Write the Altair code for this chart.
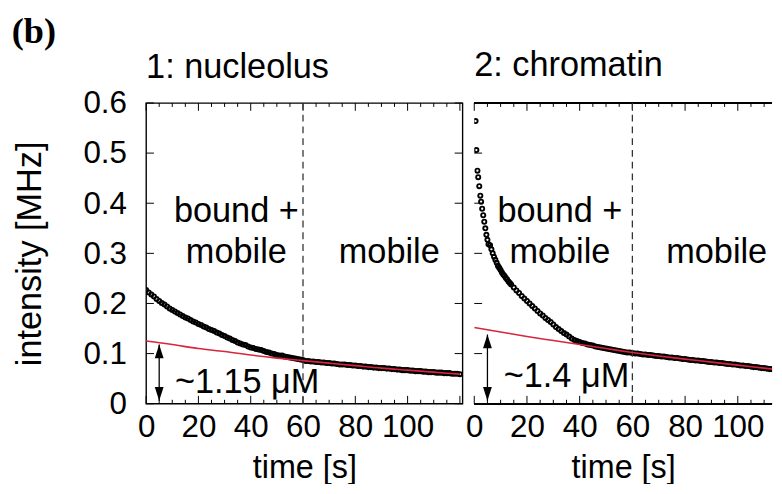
import altair as alt
import pandas as pd

FONT = "Liberation Sans"
RED = "#d7263d"

# ---------------- data ----------------
# panel 1: nucleolus, one sample per second
t1 = list(range(0, 121))
v1 = [0.227, 0.222, 0.218, 0.214, 0.209, 0.205, 0.201, 0.198, 0.194, 0.190,
      0.187, 0.184, 0.181, 0.178, 0.175, 0.172, 0.170, 0.167, 0.164, 0.162,
      0.159, 0.157, 0.154, 0.152, 0.149, 0.147, 0.145, 0.142, 0.140, 0.137,
      0.135, 0.132, 0.130, 0.127, 0.125, 0.122, 0.120, 0.118, 0.117, 0.114,
      0.112, 0.111, 0.109, 0.108, 0.107, 0.105, 0.103, 0.102, 0.100, 0.099,
      0.097, 0.096, 0.096, 0.094, 0.093, 0.092, 0.091, 0.090, 0.089, 0.088,
      0.087,
      0.085, 0.085, 0.084, 0.084, 0.083, 0.083, 0.082, 0.082, 0.081, 0.081,
      0.080, 0.080, 0.079, 0.078, 0.078, 0.078, 0.077, 0.077, 0.076, 0.076,
      0.075, 0.075, 0.074, 0.074, 0.073, 0.073, 0.072, 0.072, 0.071, 0.071,
      0.071, 0.070, 0.070, 0.069, 0.069, 0.068, 0.068, 0.067, 0.067, 0.067,
      0.066, 0.066, 0.065, 0.065, 0.065, 0.064, 0.064, 0.063, 0.063, 0.063,
      0.062, 0.062, 0.062, 0.061, 0.061, 0.061, 0.060, 0.060, 0.060, 0.059]

# panel 2: chromatin (dense at the start)
t2 = ([0.5, 0.8, 1.2, 1.5, 1.9, 2.3, 2.6, 3.0, 3.4, 3.8, 4.2, 4.6, 5.0, 5.4,
       6.0, 6.5, 7.0, 7.5, 8.0, 8.5, 9.0, 9.5, 10.0, 10.5, 11.0, 11.5, 12.0,
       12.5, 13.0, 13.5, 14.0] + list(range(15, 117)))
v2 = [0.564, 0.506, 0.465, 0.452, 0.434, 0.415, 0.403, 0.389, 0.376, 0.363,
      0.350, 0.337, 0.327, 0.318,
      0.316, 0.308, 0.300, 0.293, 0.287, 0.281, 0.275, 0.271, 0.267, 0.262,
      0.258, 0.255, 0.251, 0.248, 0.244, 0.241, 0.238,
      0.232, 0.226, 0.221, 0.215, 0.210, 0.205, 0.200, 0.195, 0.190, 0.185,
      0.180, 0.176, 0.171, 0.167, 0.163,
      0.158, 0.153, 0.149, 0.145, 0.141, 0.138, 0.134, 0.130, 0.127, 0.125,
      0.123, 0.121, 0.120, 0.118, 0.117, 0.116, 0.114, 0.113, 0.112,
      0.111, 0.110, 0.109, 0.108, 0.107, 0.106, 0.105, 0.104, 0.103, 0.102, 0.102,
      0.101,
      0.100, 0.100, 0.099, 0.098, 0.098, 0.097, 0.097, 0.096, 0.095, 0.095,
      0.094, 0.094, 0.093, 0.092, 0.092, 0.091, 0.091, 0.090, 0.089, 0.089,
      0.088, 0.087, 0.087, 0.086, 0.086, 0.085, 0.085, 0.084, 0.083, 0.083,
      0.082, 0.082, 0.081, 0.081, 0.080, 0.079, 0.079, 0.078, 0.078, 0.077,
      0.076, 0.076, 0.075, 0.075, 0.074, 0.073, 0.073, 0.072, 0.071, 0.071,
      0.070, 0.069, 0.069, 0.068, 0.067, 0.067]

# red fits (mobile fraction)
fit_t = [0, 10, 20, 30, 40, 50, 60, 70, 80, 90, 100, 110, 120]
fit1 = [0.125, 0.118, 0.110, 0.104, 0.097, 0.091, 0.086, 0.081, 0.076, 0.071, 0.067, 0.063, 0.059]
fit2 = [0.152, 0.143, 0.134, 0.126, 0.118, 0.110, 0.102, 0.095, 0.089, 0.083, 0.077, 0.071, 0.065]

x_labels = [0, 20, 40, 60, 80, 100]
x_major = [0, 20, 40, 60, 80, 100, 120]
x_minor = [5, 10, 15, 25, 30, 35, 45, 50, 55, 65, 70, 75, 85, 90, 95, 105, 110, 115]
y_major = [0.0, 0.1, 0.2, 0.3, 0.4, 0.5, 0.6]

titles = ["1: nucleolus", "2: chromatin"]
title_offsets = [-25, -8]
conc_labels = ["~1.15 \u03bcM", "~1.4 \u03bcM"]
conc_pos = [(11.0, 0.022), (11.2, 0.034)]
arrow_t = [5, 5]
arrow_lo = [0.006, 0.006]
arrow_hi = [0.118, 0.138]
bound_t = [34.5, 32.5]
mobile_t = [93, 92]
bound_v = [0.363, 0.363]
mobile_v = [0.281, 0.281]
split_t = 60

H = 307
widths = [323, 304]
xmax = [121, 113]

UP = "M0,0L0.9,2.8L-0.9,2.8Z"
DOWN = "M0,0L0.9,-2.8L-0.9,-2.8Z"


def panel(i, t, v, fit):
    W = widths[i]
    xs = alt.Scale(domain=[0, xmax[i]], nice=False, zero=False)
    ys = alt.Scale(domain=[0, 0.6], nice=False, zero=False)
    xaxis = alt.Axis(values=x_labels, ticks=False, domain=False, grid=False,
                     labelFontSize=32, labelFont=FONT, labelColor="black",
                     labelPadding=8, labelFlush=False, labelOverlap=False,
                     title="time [s]", titleFontSize=33, titleFont=FONT,
                     titleFontWeight="normal", titleColor="black", titlePadding=10)
    if i == 0:
        yaxis = alt.Axis(values=y_major, format=".1f",
                         labelExpr="datum.value == 0 ? '0' : datum.label",
                         ticks=False, domain=False, grid=False,
                         labelFontSize=32, labelFont=FONT, labelColor="black",
                         labelPadding=20, labelFlush=False, labelOverlap=False,
                         title="intensity [MHz]", titleFontSize=35, titleFont=FONT,
                         titleFontWeight="normal", titleColor="black", titlePadding=36)
    else:
        yaxis = None

    def X(f):
        return alt.X(f, scale=xs, axis=xaxis)

    def Y(f):
        return alt.Y(f, scale=ys, axis=yaxis)

    pts = alt.Chart(pd.DataFrame({"t": t, "v": v})).mark_point(
        filled=False, color="black", size=18, strokeWidth=1.9, opacity=1, clip=True
    ).encode(x=X("t:Q"), y=Y("v:Q"))

    red = alt.Chart(pd.DataFrame({"t": fit_t, "v": fit})).mark_line(
        color=RED, strokeWidth=1.6, clip=True, interpolate="monotone"
    ).encode(x=X("t:Q"), y=Y("v:Q"))

    dash = alt.Chart(pd.DataFrame({"t": [split_t]})).mark_rule(
        color="#333333", strokeWidth=1.3, strokeDash=[7, 5]
    ).encode(x=X("t:Q"))

    xmj = pd.DataFrame({"t": [x for x in x_major if x <= xmax[i]]})
    xmn = pd.DataFrame({"t": [x for x in x_minor if x <= xmax[i]]})
    ymj = pd.DataFrame({"v": y_major})
    tk = dict(color="black", strokeWidth=1)
    ticks = [
        alt.Chart(xmj).mark_rule(**tk).encode(x=X("t:Q"), y=alt.value(0), y2=alt.value(8)),
        alt.Chart(xmj).mark_rule(**tk).encode(x=X("t:Q"), y=alt.value(H), y2=alt.value(H - 8)),
        alt.Chart(xmn).mark_rule(**tk).encode(x=X("t:Q"), y=alt.value(0), y2=alt.value(4)),
        alt.Chart(xmn).mark_rule(**tk).encode(x=X("t:Q"), y=alt.value(H), y2=alt.value(H - 4)),
        alt.Chart(ymj).mark_rule(**tk).encode(y=Y("v:Q"), x=alt.value(0), x2=alt.value(8)),
    ]
    if i == 0:
        ticks.append(alt.Chart(ymj).mark_rule(**tk).encode(y=Y("v:Q"), x=alt.value(W), x2=alt.value(W - 8)))
        view = alt.ViewBackground(stroke="black", strokeWidth=1.4)
    else:
        # the second panel is cut at the right edge of the figure: frame on top and bottom only
        fr = dict(color="black", strokeWidth=1.4)
        ticks.append(alt.Chart(xmj).mark_rule(**fr).encode(x=alt.value(0), x2=alt.value(W), y=alt.value(0)))
        ticks.append(alt.Chart(xmj).mark_rule(**fr).encode(x=alt.value(0), x2=alt.value(W), y=alt.value(H)))
        view = alt.ViewBackground(stroke="transparent")

    adf = pd.DataFrame({"t": [arrow_t[i]], "lo": [arrow_lo[i]], "hi": [arrow_hi[i]]})
    arrow = alt.Chart(adf).mark_rule(color="black", strokeWidth=1.3).encode(
        x=X("t:Q"), y=Y("lo:Q"), y2="hi:Q")
    head_up = alt.Chart(adf).mark_point(shape=UP, filled=True, color="black", size=100, opacity=1).encode(
        x=X("t:Q"), y=Y("hi:Q"))
    head_dn = alt.Chart(adf).mark_point(shape=DOWN, filled=True, color="black", size=100, opacity=1).encode(
        x=X("t:Q"), y=Y("lo:Q"))

    tdf = pd.DataFrame({
        "t": [bound_t[i], bound_t[i], mobile_t[i]],
        "v": [bound_v[i], mobile_v[i], mobile_v[i]],
        "txt": ["bound +", "mobile", "mobile"],
    })
    texts = alt.Chart(tdf).mark_text(font=FONT, fontSize=35, color="black", align="center",
                                     baseline="alphabetic").encode(
        x=X("t:Q"), y=Y("v:Q"), text="txt:N")

    cdf = pd.DataFrame({"t": [conc_pos[i][0]], "v": [conc_pos[i][1]], "txt": [conc_labels[i]]})
    conc = alt.Chart(cdf).mark_text(font=FONT, fontSize=35, color="black", align="left",
                                    baseline="alphabetic").encode(
        x=X("t:Q"), y=Y("v:Q"), text="txt:N")

    layers = [pts] + ticks + [dash, red, arrow, head_up, head_dn, texts, conc]
    return alt.layer(*layers).properties(
        width=W, height=H,
        view=view,
        title=alt.TitleParams(titles[i], anchor="start", frame="group", fontSize=35, font=FONT,
                              fontWeight="normal", color="black", baseline="alphabetic",
                              offset=title_offsets[i]),
    )


p1 = panel(0, t1, v1, fit1)
p2 = panel(1, t2, v2, fit2)

chart = alt.hconcat(p1, p2, spacing=0).properties(
    title=alt.TitleParams("(b)", anchor="start", font="Liberation Serif", fontSize=37,
                          fontWeight="bold", color="black", baseline="alphabetic", offset=-32, dx=-1),
    padding={"left": 3, "top": 0, "right": 0, "bottom": -6},
).configure_view(stroke="black", strokeWidth=1.4).configure(font=FONT)

chart.save("out.html", embed_options={"renderer": "svg", "actions": False})
